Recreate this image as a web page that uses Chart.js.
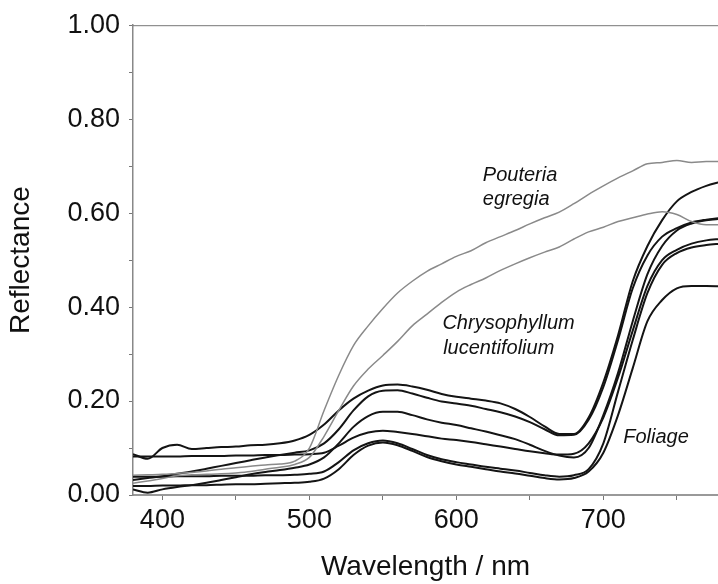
<!DOCTYPE html>
<html>
<head>
<meta charset="utf-8">
<script src="https://cdn.jsdelivr.net/npm/chart.js@4.4.1/dist/chart.umd.min.js"></script>
<style>
  html, body { margin: 0; padding: 0; background: #fff; }
  canvas { display: block; }
</style>
</head>
<body>
<canvas id="spectra" width="718" height="584"></canvas>
<script>
// wavelengths (nm), 10 nm steps
const wavelengths = [380, 390, 400, 410, 420, 430, 440, 450, 460, 470, 480, 490, 500,
  510, 520, 530, 540, 550, 560, 570, 580, 590, 600, 610, 620, 630, 640, 650, 660,
  670, 680, 690, 700, 710, 720, 730, 740, 750, 760, 770, 780];

// grey curves
const pouteria = [0.042, 0.043, 0.044, 0.046, 0.048, 0.051, 0.055, 0.058, 0.061, 0.064, 0.066, 0.072, 0.100,
  0.180, 0.255, 0.318, 0.360, 0.397, 0.430, 0.455, 0.476, 0.492, 0.508, 0.520, 0.537, 0.550, 0.563, 0.577, 0.590,
  0.602, 0.620, 0.640, 0.658, 0.675, 0.690, 0.705, 0.708, 0.712, 0.708, 0.710, 0.710];
const chrysophyllum = [0.025, 0.030, 0.035, 0.041, 0.043, 0.044, 0.045, 0.047, 0.050, 0.055, 0.059, 0.065, 0.080,
  0.125, 0.180, 0.232, 0.268, 0.297, 0.327, 0.360, 0.385, 0.410, 0.432, 0.448, 0.462, 0.478, 0.492, 0.505, 0.517,
  0.528, 0.545, 0.560, 0.570, 0.582, 0.590, 0.598, 0.603, 0.597, 0.582, 0.575, 0.575];

// black foliage curves
const foliageA = [0.087, 0.077, 0.100, 0.107, 0.098, 0.100, 0.102, 0.103, 0.106, 0.107, 0.110, 0.116, 0.128,
  0.150, 0.180, 0.205, 0.222, 0.233, 0.235, 0.231, 0.224, 0.215, 0.209, 0.205, 0.201, 0.195, 0.183, 0.166, 0.146,
  0.130, 0.130, 0.165, 0.240, 0.340, 0.455, 0.530, 0.585, 0.625, 0.645, 0.658, 0.667];
const foliageE = [0.032, 0.036, 0.040, 0.045, 0.050, 0.056, 0.062, 0.068, 0.074, 0.080, 0.085, 0.090, 0.095,
  0.110, 0.140, 0.180, 0.210, 0.222, 0.223, 0.216, 0.207, 0.199, 0.195, 0.190, 0.183, 0.176, 0.167, 0.155, 0.140,
  0.127, 0.128, 0.160, 0.230, 0.330, 0.440, 0.510, 0.550, 0.568, 0.580, 0.586, 0.590];
const foliageC = [0.012, 0.005, 0.012, 0.017, 0.021, 0.026, 0.032, 0.038, 0.044, 0.049, 0.053, 0.058, 0.065,
  0.080, 0.110, 0.145, 0.168, 0.177, 0.177, 0.170, 0.161, 0.154, 0.149, 0.142, 0.135, 0.127, 0.119, 0.107, 0.094,
  0.084, 0.080, 0.100, 0.170, 0.260, 0.370, 0.470, 0.530, 0.563, 0.578, 0.585, 0.588];
const foliageB = [0.082, 0.082, 0.082, 0.082, 0.083, 0.083, 0.083, 0.084, 0.084, 0.085, 0.085, 0.086, 0.087,
  0.090, 0.105, 0.122, 0.133, 0.137, 0.134, 0.130, 0.125, 0.120, 0.117, 0.113, 0.108, 0.103, 0.098, 0.093, 0.089,
  0.086, 0.088, 0.110, 0.165, 0.250, 0.350, 0.445, 0.500, 0.522, 0.535, 0.542, 0.545];
const foliageD = [0.039, 0.039, 0.039, 0.040, 0.040, 0.040, 0.041, 0.041, 0.041, 0.042, 0.042, 0.043, 0.045,
  0.050, 0.070, 0.095, 0.110, 0.116, 0.110, 0.098, 0.085, 0.076, 0.070, 0.065, 0.060, 0.056, 0.052, 0.047, 0.042,
  0.039, 0.042, 0.055, 0.110, 0.220, 0.330, 0.430, 0.490, 0.515, 0.527, 0.532, 0.535];
const foliageF = [0.019, 0.019, 0.020, 0.020, 0.021, 0.021, 0.022, 0.023, 0.023, 0.024, 0.025, 0.026, 0.028,
  0.035, 0.055, 0.085, 0.105, 0.112, 0.106, 0.094, 0.081, 0.072, 0.065, 0.060, 0.055, 0.050, 0.046, 0.041, 0.036,
  0.033, 0.036, 0.050, 0.090, 0.170, 0.270, 0.370, 0.415, 0.440, 0.445, 0.445, 0.444];

const xTicks = [400, 450, 500, 550, 600, 650, 700, 750];
const yTicks = [0, 0.1, 0.2, 0.3, 0.4, 0.5, 0.6, 0.7, 0.8, 0.9, 1.0];

// in-plot labels: [text, wavelength, reflectance]
const curveLabels = [
    ['Pouteria', 618, 0.681],
    ['egregia', 618, 0.630],
    ['Chrysophyllum', 590.5, 0.366],
    ['lucentifolium', 591, 0.311],
    ['Foliage', 713.5, 0.123]
];

const GREY = '#8a8a8a';
const BLACK = '#141414';

function toPoints(values) {
    return wavelengths.map((w, i) => ({ x: w, y: values[i] }));
}

function lineSet(values, color, width) {
    return {
        data: toPoints(values),
        borderColor: color,
        borderWidth: width,
        pointRadius: 0,
        fill: false,
        cubicInterpolationMode: 'monotone'
    };
}

const labelPlugin = {
    id: 'curveLabels',
    afterDatasetsDraw(chart) {
        const { ctx, chartArea, scales } = chart;
        ctx.save();
        // top frame line
        ctx.strokeStyle = '#777';
        ctx.lineWidth = 1;
        ctx.beginPath();
        ctx.moveTo(chartArea.left, chartArea.top + 0.5);
        ctx.lineTo(chartArea.right, chartArea.top + 0.5);
        ctx.stroke();

        ctx.fillStyle = '#111';
        ctx.font = 'italic 20px "Liberation Sans", Arial, sans-serif';
        ctx.textAlign = 'left';
        ctx.textBaseline = 'middle';
        curveLabels.forEach(([text, w, r]) => {
            ctx.fillText(text, scales.x.getPixelForValue(w), scales.y.getPixelForValue(r));
        });
        ctx.restore();
    }
};

const FONT = '"Liberation Sans", Arial, sans-serif';

new Chart(document.getElementById('spectra'), {
    type: 'line',
    data: {
        datasets: [
            lineSet(pouteria, GREY, 1.5),
            lineSet(chrysophyllum, GREY, 1.5),
            lineSet(foliageA, BLACK, 2),
            lineSet(foliageE, BLACK, 2),
            lineSet(foliageC, BLACK, 2),
            lineSet(foliageB, BLACK, 2),
            lineSet(foliageD, BLACK, 2),
            lineSet(foliageF, BLACK, 2)
        ]
    },
    options: {
        responsive: false,
        animation: false,
        layout: { padding: { top: 22, right: 0, bottom: 0, left: 0 } },
        plugins: {
            legend: { display: false },
            tooltip: { enabled: false }
        },
        scales: {
            x: {
                type: 'linear',
                min: 380,
                max: 778,
                afterFit: (s) => { s.height = 89; },
                afterBuildTicks: (s) => { s.ticks = xTicks.map(v => ({ value: v })); },
                grid: { drawOnChartArea: false, tickLength: 5, color: '#777' },
                border: { color: '#999', width: 2 },
                ticks: {
                    autoSkip: false,
                    maxRotation: 0,
                    padding: 4,
                    color: '#111',
                    font: { family: FONT, size: 27 },
                    callback: (v) => (v % 100 === 0 ? String(v) : '')
                },
                title: {
                    display: true,
                    text: 'Wavelength / nm',
                    color: '#111',
                    font: { family: FONT, size: 28 },
                    padding: { top: 0, bottom: 0 }
                }
            },
            y: {
                min: 0,
                max: 1,
                afterFit: (s) => { s.width = 133; },
                afterBuildTicks: (s) => { s.ticks = yTicks.map(v => ({ value: v })); },
                grid: { drawOnChartArea: false, tickLength: 4, color: '#777' },
                border: { color: '#888', width: 1.5 },
                ticks: {
                    padding: 9,
                    color: '#111',
                    font: { family: FONT, size: 27 },
                    callback: (v) => (Math.round(v * 10) % 2 === 0 ? v.toFixed(2) : '')
                },
                title: {
                    display: true,
                    text: 'Reflectance',
                    color: '#111',
                    font: { family: FONT, size: 28 },
                    padding: { top: 4, bottom: 0 }
                }
            }
        }
    },
    plugins: [labelPlugin]
});
</script>
</body>
</html>
